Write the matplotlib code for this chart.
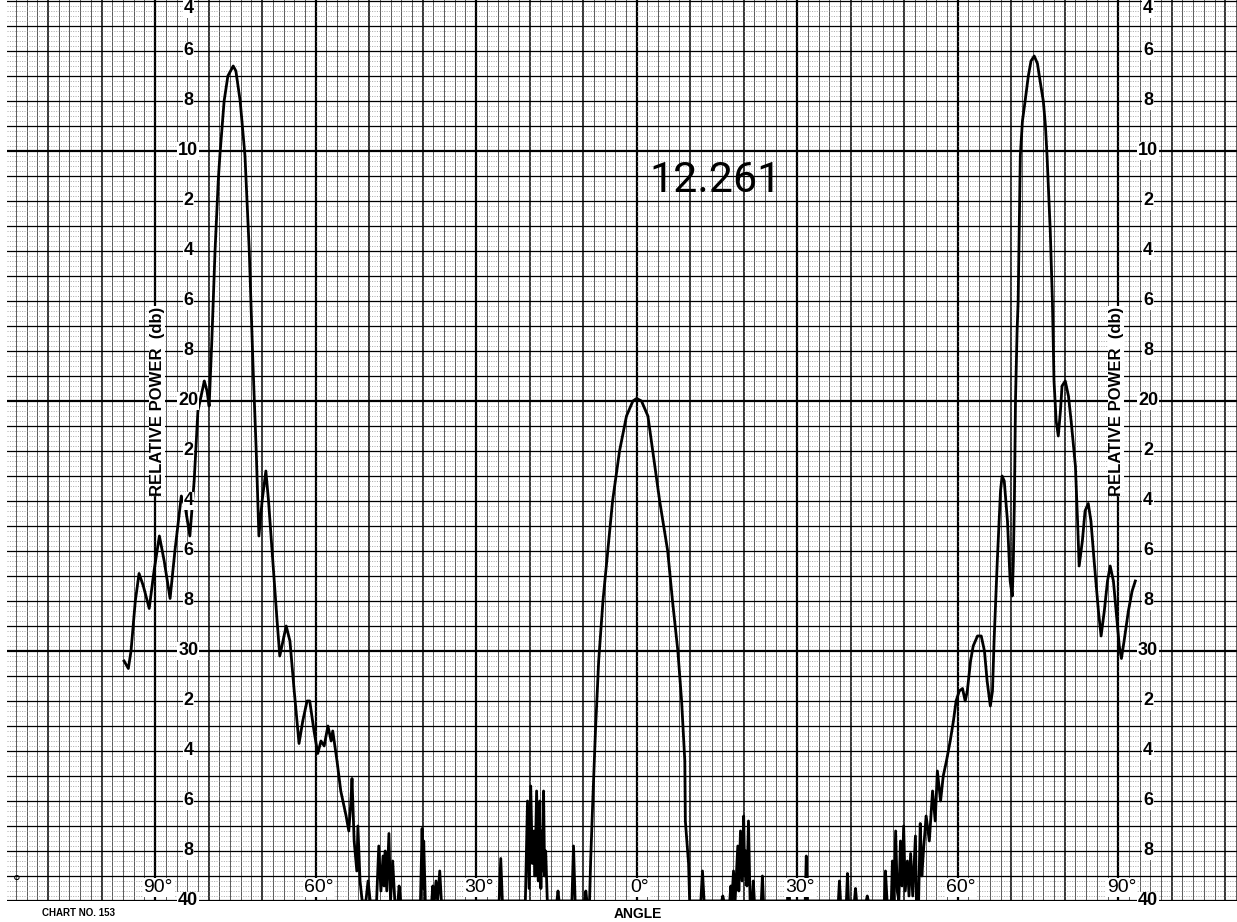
import numpy as np
import matplotlib
matplotlib.use('Agg')
import matplotlib.pyplot as plt

# 方向图记录数据: 角度(度, 左负右正) / 相对功率(db, 向下增大)
left_lobe_angle = [-95.8, -95.0, -94.5, -93.7, -93.0, -92.2, -91.1, -90.2, -89.2, -88.3,
                   -87.2, -86.3, -85.1, -84.4, -83.5, -82.7, -82.0, -80.8, -80.3, -79.9,
                   -79.4, -78.8, -78.2, -77.9, -77.1, -76.4, -75.4, -74.9, -74.1, -73.2,
                   -72.4, -72.1, -71.7, -71.1, -70.6, -70.0, -69.3, -68.8, -68.0, -67.2,
                   -66.7, -66.1, -65.5, -64.8, -64.0, -63.1, -62.4, -61.6, -61.1, -60.3,
                   -59.6, -59.0, -58.4, -57.7, -57.1, -56.8, -56.0, -55.3, -54.3, -53.8,
                   -53.4, -53.2, -52.8, -52.3, -52.1, -51.7, -51.3]
left_lobe_db = [30.4, 30.7, 30.0, 28.0, 26.9, 27.4, 28.3, 26.8, 25.4, 26.4,
                27.9, 26.0, 23.8, 24.2, 25.4, 23.2, 20.4, 19.2, 19.6, 20.2,
                17.6, 14.0, 11.2, 10.2, 8.0, 7.0, 6.6, 6.8, 8.0, 10.2,
                14.0, 16.0, 18.6, 22.0, 25.4, 24.0, 22.8, 24.0, 26.4, 28.8,
                30.2, 29.6, 29.0, 29.6, 31.6, 33.7, 32.8, 32.0, 32.0, 33.2,
                34.1, 33.6, 33.8, 33.0, 33.6, 33.2, 34.4, 35.6, 36.6, 37.2,
                36.0, 35.1, 37.6, 38.8, 37.0, 39.2, 40.0]

left_floor_angle = [-50.6, -50.2, -49.8, -48.6, -48.2, -47.8, -47.4, -47.2, -47.0, -46.7,
                    -46.3, -46.0, -45.6, -45.2, -44.6, -44.4, -44.1, -40.4, -40.1, -39.9,
                    -39.8, -39.5, -38.3, -38.1, -37.8, -37.5, -37.2, -36.8, -36.5, -25.7,
                    -25.4, -25.1, -20.8, -20.4, -20.1, -19.8, -19.5, -19.2, -19.0, -18.7,
                    -18.4, -18.1, -17.9, -17.7, -17.5, -17.4, -17.2, -17.0, -16.7, -14.9,
                    -14.7, -14.5, -12.1, -11.8, -11.5, -9.7, -9.5, -9.3]
left_floor_db = [40.0, 39.2, 40.0, 40.0, 37.8, 39.6, 38.2, 39.4, 38.0, 39.6,
                 37.3, 40.0, 38.4, 40.0, 40.0, 39.4, 40.0, 40.0, 37.1, 39.5,
                 37.6, 40.0, 40.0, 39.4, 40.0, 39.2, 40.0, 38.8, 40.0, 40.0,
                 38.3, 40.0, 40.0, 36.0, 39.5, 35.4, 38.5, 37.2, 39.0, 35.6,
                 39.2, 36.0, 39.5, 37.2, 38.8, 35.6, 39.0, 38.0, 40.0, 40.0,
                 39.6, 40.0, 40.0, 37.8, 40.0, 40.0, 39.6, 40.0]

main_lobe_angle = [-8.8, -8.6, -8.2, -7.7, -7.1, -6.3, -5.4, -4.5, -3.2, -1.9, -0.7, 0.0,
                   0.9, 2.1, 3.0, 4.3, 5.8, 6.7, 7.7, 8.4, 9.0, 9.1, 9.7, 9.9]
main_lobe_db = [40.0, 38.4, 36.0, 33.2, 30.4, 28.0, 26.0, 24.0, 22.0, 20.6, 20.0, 19.9,
                20.0, 20.6, 22.0, 24.0, 26.0, 28.0, 30.0, 32.0, 34.4, 36.8, 38.5, 40.0]

right_floor_angle = [12.0, 12.3, 12.6, 15.9, 16.1, 16.3, 17.4, 17.6, 17.8, 18.1,
                     18.4, 18.9, 19.1, 19.4, 19.7, 20.0, 20.2, 20.4, 20.6, 20.9,
                     21.2, 21.6, 21.8, 22.0, 23.3, 23.5, 23.7, 28.2, 28.4, 28.6,
                     31.5, 31.7, 31.9, 37.7, 37.9, 38.1, 39.2, 39.4, 39.6, 40.7,
                     40.9, 41.1, 42.9, 43.1, 43.3, 46.3, 46.5, 46.8, 47.6, 47.8,
                     48.1, 48.4, 48.7, 49.0, 49.3, 49.6, 49.9, 50.2, 50.6, 50.9,
                     51.2, 51.6, 52.1, 52.3, 52.5, 52.7, 53.0, 53.3]
right_floor_db = [40.0, 38.8, 40.0, 40.0, 39.8, 40.0, 40.0, 39.4, 40.0, 38.8,
                  40.0, 37.8, 39.6, 37.2, 39.2, 36.6, 39.0, 38.0, 39.4, 36.8,
                  40.0, 40.0, 39.2, 40.0, 40.0, 39.0, 40.0, 40.0, 39.4, 40.0,
                  40.0, 38.2, 40.0, 40.0, 39.2, 40.0, 40.0, 38.9, 40.0, 40.0,
                  39.5, 40.0, 40.0, 39.8, 40.0, 40.0, 38.8, 40.0, 40.0, 38.4,
                  40.0, 37.2, 39.6, 40.0, 37.6, 39.4, 37.0, 39.6, 38.4, 39.8,
                  38.1, 39.8, 37.4, 40.0, 39.8, 40.0, 36.9, 39.0]

right_lobe_angle = [53.6, 54.1, 54.7, 55.3, 55.8, 56.2, 56.8, 57.3, 57.9, 58.6,
                    59.2, 59.7, 60.3, 60.9, 61.4, 61.8, 62.4, 62.9, 63.7, 64.4,
                    65.0, 65.5, 66.1, 66.5, 66.8, 67.4, 68.0, 68.3, 68.7, 69.3,
                    69.8, 70.2, 70.4, 70.6, 70.8, 71.1, 71.3, 71.5, 71.7, 72.1,
                    72.6, 73.2, 73.7, 74.3, 74.9, 75.4, 76.0, 76.4, 76.7, 77.3,
                    77.7, 78.0, 78.4, 78.8, 79.2, 79.5, 80.1, 80.7, 81.2, 82.0,
                    82.4, 82.7, 83.3, 83.8, 84.4, 84.9, 85.5, 86.3, 86.8, 87.4,
                    88.0, 88.5, 89.1, 89.6, 90.2, 90.6, 91.1, 91.9, 92.6, 93.2]
right_lobe_db = [38.0, 36.6, 37.6, 35.6, 36.8, 34.8, 36.0, 35.0, 34.4, 33.6,
                 32.8, 32.0, 31.6, 31.5, 32.0, 31.6, 30.4, 29.8, 29.4, 29.4,
                 30.0, 31.2, 32.2, 31.6, 29.6, 26.4, 23.6, 23.0, 23.2, 24.8,
                 27.2, 27.8, 26.4, 24.0, 20.0, 17.2, 16.0, 13.2, 10.2, 8.8,
                 8.0, 7.0, 6.4, 6.2, 6.5, 7.2, 8.0, 9.0, 10.2, 13.2,
                 16.0, 19.2, 20.8, 21.4, 20.4, 19.4, 19.2, 19.8, 20.8, 22.6,
                 24.8, 26.6, 25.6, 24.4, 24.1, 24.8, 26.4, 28.4, 29.4, 28.4,
                 27.2, 26.6, 27.2, 28.4, 29.8, 30.3, 29.6, 28.4, 27.6, 27.2]

db_labels = ['4', '6', '8', '10', '2', '4', '6', '8', '20', '2',
             '4', '6', '8', '30', '2', '4', '6', '8', '40']
db_label_values = np.arange(4, 41, 2)
angle_label_values = [-90, -60, -30, 0, 30, 60, 90]
angle_labels = ['90°', '60°', '30°', '0°', '30°', '60°', '90°']

angle = np.concatenate([left_lobe_angle, left_floor_angle, main_lobe_angle,
                        right_floor_angle, right_lobe_angle])
power = np.concatenate([left_lobe_db, left_floor_db, main_lobe_db,
                        right_floor_db, right_lobe_db])

fig = plt.figure(figsize=(12.37, 9.22), dpi=100)
ax = fig.add_axes([0.006, 0.0228, 0.994, 0.9772])
ax.set_xlim(-117.6, 112.2)
ax.set_ylim(40.0, 3.96)
ax.axis('off')

# 记录纸网格
for a in np.arange(-116, 113, 2):
    if a % 30 == 0:
        ax.axvline(a, color='black', lw=1.6, zorder=1)
    elif a % 10 == 0:
        ax.axvline(a, color='black', lw=1.1, zorder=1)
    else:
        ax.axvline(a, color='0.35', lw=0.7, zorder=1)
for d in np.arange(4.0, 40.01, 0.2):
    d = round(d, 1)
    if d % 10 == 0:
        ax.axhline(d, color='black', lw=1.6, zorder=1)
    elif abs(d - round(d)) < 1e-6:
        ax.axhline(d, color='black', lw=0.9, zorder=1)
    else:
        ax.axhline(d, color='0.55', lw=0.5, ls=(0, (1.5, 2)), zorder=1)

ax.plot(angle, power, color='black', lw=2.0, zorder=3, solid_joinstyle='round')

box = dict(facecolor='white', edgecolor='none', pad=0.5)
for x0 in (-83.8, 95.6):
    for v, s in zip(db_label_values, db_labels):
        y_txt = 4.3 if v == 4 else v   # 顶部的 "4" 在原图中紧贴上边
        ax.text(x0, y_txt, s, ha='center', va='center', fontsize=13, fontweight='bold',
                family='Liberation Sans', bbox=box, zorder=4, clip_on=False)
for x0 in (-89.6, 89.6):
    ax.text(x0, 20.0, 'RELATIVE POWER  (db)', rotation=90, ha='center', va='center',
            fontsize=12, fontweight='bold', family='Liberation Sans', bbox=box, zorder=4)

for v, s in zip(angle_label_values, angle_labels):
    ax.text(v + 0.6, 39.45, s, ha='center', va='center', fontsize=14,
            family='Liberation Sans', bbox=box, zorder=4)
ax.text(-115.8, 39.3, '°', ha='center', va='center', fontsize=14,
        family='Liberation Sans', zorder=4)

ax.text(0.2, 40.25, 'ANGLE', ha='center', va='top', fontsize=10, fontweight='bold',
        family='Liberation Sans', clip_on=False)
ax.text(-104.4, 40.3, 'CHART NO. 153', ha='center', va='top', fontsize=7,
        fontweight='bold', family='Liberation Sans', clip_on=False)

ax.text(14.8, 11.2, '12.261', ha='center', va='center', fontsize=31,
        fontweight='normal', family=['Roboto', 'Liberation Sans'], zorder=4)

fig.savefig('out.png', dpi=100)
